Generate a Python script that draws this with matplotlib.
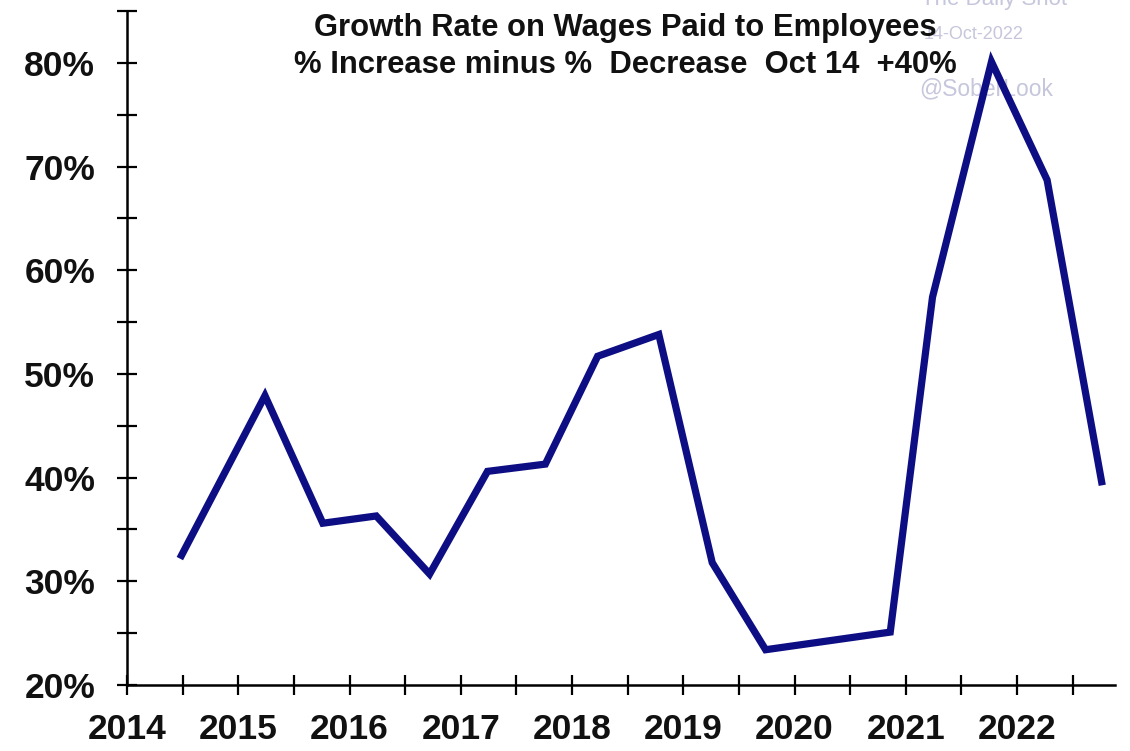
import matplotlib
matplotlib.use('Agg')
import matplotlib.pyplot as plt
from matplotlib.ticker import MultipleLocator, FuncFormatter

plt.rcParams['font.family'] = ['Liberation Sans', 'DejaVu Sans']

# survey dates (decimal years) and net % of firms raising wages
dates = [2014.49, 2015.24, 2015.76, 2016.24, 2016.72, 2017.24, 2017.76, 2018.23,
         2018.78, 2019.26, 2019.74, 2020.86, 2021.24, 2021.77, 2022.27, 2022.76]
net_pct = [32.5, 47.9, 35.6, 36.3, 30.7, 40.6, 41.3, 51.7,
           53.8, 31.8, 23.4, 25.1, 57.4, 80.1, 68.7, 39.6]

year_labels = [2014, 2015, 2016, 2017, 2018, 2019, 2020, 2021, 2022]
title_1 = 'Growth Rate on Wages Paid to Employees'
title_2 = '% Increase minus %  Decrease  Oct 14  +40%'

fig = plt.figure(figsize=(11.3, 7.51), dpi=100, facecolor='white')
ax = fig.add_axes([0.1124, 0.0879, 0.8743, 0.8975])

ax.plot(dates, net_pct, color='#0e0e84', lw=5.2, solid_joinstyle='miter', zorder=3)

ax.set_xlim(2014, 2022.88)
ax.set_ylim(20, 85)

for s in ['top', 'right']:
    ax.spines[s].set_visible(False)
for s in ['left', 'bottom']:
    ax.spines[s].set_linewidth(1.8)
    ax.spines[s].set_color('black')

ax.xaxis.set_major_locator(MultipleLocator(1))
ax.xaxis.set_minor_locator(MultipleLocator(0.5))
ax.yaxis.set_major_locator(MultipleLocator(10))
ax.yaxis.set_minor_locator(MultipleLocator(5))
ax.set_xticks(year_labels)
ax.set_xticklabels([str(y) for y in year_labels])
ax.yaxis.set_major_formatter(FuncFormatter(lambda v, p: '%d%%' % v))

ax.tick_params(which='both', direction='inout', length=14, width=1.6, color='black')
ax.tick_params(axis='y', which='major', pad=16, labelsize=25.5)
ax.tick_params(axis='x', which='major', pad=13, labelsize=25.5)
for lab in ax.get_xticklabels() + ax.get_yticklabels():
    lab.set_fontweight('bold')
    lab.set_color('#111111')

# watermarks sit behind the line
wm = '#c6c6dc'
ax.text(0.880, 0.9933, 'The Daily Shot', transform=fig.transFigure, fontsize=16,
        color=wm, ha='center', va='baseline', zorder=1)
ax.text(0.8615, 0.9535, '14-Oct-2022', transform=fig.transFigure, fontsize=13,
        color=wm, ha='center', va='center', zorder=1)
ax.text(0.873, 0.882, '@SoberLook', transform=fig.transFigure, fontsize=16.5,
        color=wm, ha='center', va='center', zorder=1)

fig.text(0.553, 0.952, title_1, fontsize=22.3, fontweight='bold', ha='center',
         va='baseline', color='#111111')
fig.text(0.553, 0.903, title_2, fontsize=22.3, fontweight='bold', ha='center',
         va='baseline', color='#111111')

fig.savefig('out.png', dpi=100, facecolor='white')
